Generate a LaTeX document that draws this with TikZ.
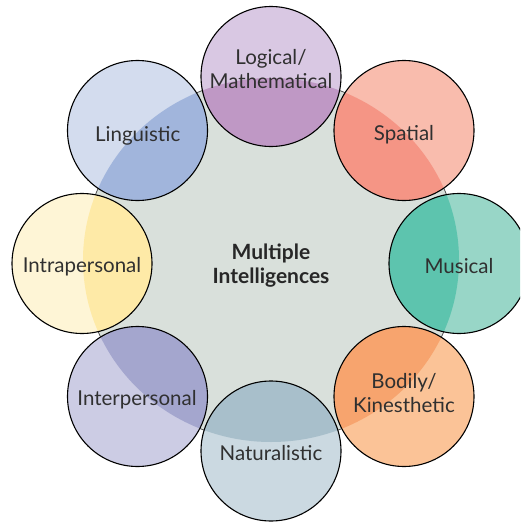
\documentclass[tikz,border=0pt]{standalone}
\usepackage{fontspec}
\setmainfont{Lato}
\definecolor{bigfill}{HTML}{D9E0DB}
\definecolor{bigline}{HTML}{505050}
\definecolor{txt}{HTML}{303030}
\definecolor{logL}{HTML}{D9C8E3}\definecolor{logD}{HTML}{BF98C5}
\definecolor{spaL}{HTML}{F9BCAD}\definecolor{spaD}{HTML}{F59585}
\definecolor{musL}{HTML}{98D6C7}\definecolor{musD}{HTML}{5DC4AE}
\definecolor{bodL}{HTML}{FBC397}\definecolor{bodD}{HTML}{F7A46E}
\definecolor{natL}{HTML}{CBD9E1}\definecolor{natD}{HTML}{A8BFCB}
\definecolor{intL}{HTML}{CCCCE4}\definecolor{intD}{HTML}{A4A6CE}
\definecolor{itrL}{HTML}{FEF5D6}\definecolor{itrD}{HTML}{FEEAA7}
\definecolor{linL}{HTML}{D3DCEE}\definecolor{linD}{HTML}{A1B5DC}
\begin{document}
\begin{tikzpicture}[x=1pt,y=-1pt,
  sat/.style={circle, draw=black, line width=1.1pt, minimum size=140pt, inner sep=0pt},
  lbl/.style={text=txt, align=center, inner sep=0pt, font=\fontsize{20.5}{23.5}\selectfont},
  ctr/.style={text=txt!80!black, align=center, inner sep=0pt, font=\fontsize{21}{24}\selectfont\bfseries}]
\useasboundingbox (0,0) rectangle (520,525);
\clip (0,0) rectangle (520,525);
% big central ellipse
\draw[fill=bigfill, draw=bigline, line width=0.8pt] (271,260) ellipse [x radius=188pt, y radius=182pt];
% satellite positions
\coordinate (pLog) at (271,76.5);
\coordinate (pSpa) at (404,130.5);
\coordinate (pMus) at (459,263.5);
\coordinate (pBod) at (404,396.5);
\coordinate (pNat) at (271,451);
\coordinate (pInt) at (137.5,396.5);
\coordinate (pItr) at (82,263.5);
\coordinate (pLin) at (137.5,130.5);
% light fills
\foreach \p/\c in {pLog/logL,pSpa/spaL,pMus/musL,pBod/bodL,pNat/natL,pInt/intL,pItr/itrL,pLin/linL}
  \fill[\c] (\p) circle [radius=70pt];
% dark overlap fills
\begin{scope}
  \clip (271,260) ellipse [x radius=188pt, y radius=182pt];
  \foreach \p/\c in {pLog/logD,pSpa/spaD,pMus/musD,pBod/bodD,pNat/natD,pInt/intD,pItr/itrD,pLin/linD}
    \fill[\c] (\p) circle [radius=70pt];
\end{scope}
% outlines
\node[sat] (log) at (pLog) {};
\node[sat] (spa) at (pSpa) {};
\node[sat] (mus) at (pMus) {};
\node[sat] (bod) at (pBod) {};
\node[sat] (nat) at (pNat) {};
\node[sat] (int) at (pInt) {};
\node[sat] (itr) at (pItr) {};
\node[sat] (lin) at (pLin) {};
% labels (base = baseline of last line)
\node[lbl, anchor=base] (tLog) at (271,88) {Logical/\\Mathematical};
\node[lbl, anchor=base] (tSpa) at (404,140) {Spatial};
\node[lbl, anchor=base] (tMus) at (459,273) {Musical};
\node[lbl, anchor=base] (tBod) at (404,412) {Bodily/\\Kinesthetic};
\node[lbl, anchor=base] (tNat) at (271,460) {Naturalistic};
\node[lbl, anchor=base] (tInt) at (137,405) {Interpersonal};
\node[lbl, anchor=base] (tItr) at (82,272) {Intrapersonal};
\node[lbl, anchor=base] (tLin) at (137.7,141) {Linguistic};
\node[ctr, anchor=base] (center) at (271,283) {Multiple\\Intelligences};
\end{tikzpicture}
\end{document}
